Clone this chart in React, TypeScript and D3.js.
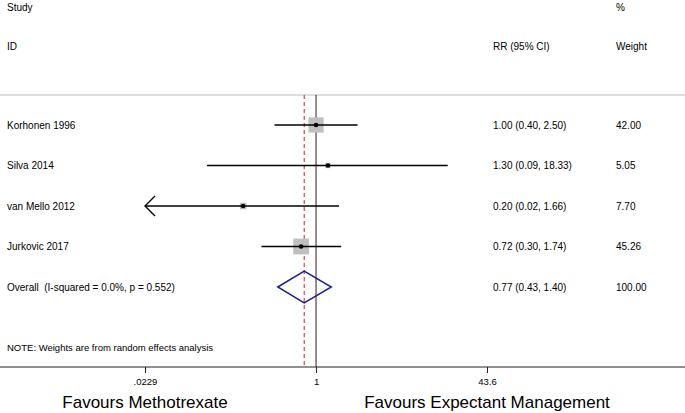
import React, { useEffect, useRef } from "react"
import * as d3 from "d3"

// forest plot: RR per study, log scale
const studies = ["Korhonen 1996", "Silva 2014", "van Mello 2012", "Jurkovic 2017"]
const rr = [1.0, 1.3, 0.2, 0.72]
const lower = [0.4, 0.09, 0.02, 0.3]
const upper = [2.5, 18.33, 1.66, 1.74]
const weights = [42.0, 5.05, 7.7, 45.26]
const ciLabels = ["1.00 (0.40, 2.50)", "1.30 (0.09, 18.33)", "0.20 (0.02, 1.66)", "0.72 (0.30, 1.74)"]
const weightLabels = ["42.00", "5.05", "7.70", "45.26"]

const overall = { label: "Overall  (I-squared = 0.0%, p = 0.552)", rr: 0.77, lo: 0.43, hi: 1.4, ci: "0.77 (0.43, 1.40)", w: "100.00" }

const tickValues = [0.0229, 1, 43.6]
const tickLabels = [".0229", "1", "43.6"]
const favours = ["Favours Methotrexate", "Favours Expectant Management"]

const W = 685
const H = 413
const font = "'Liberation Sans', Arial, sans-serif"

export default function App() {
  const axisRef = useRef<SVGGElement>(null)

  const x = d3.scaleLog().domain([0.0229, 43.6]).range([145, 487])
  const rowY = d3.scalePoint<number>().domain([0, 1, 2, 3, 4]).range([125, 287])
  const boxSide = d3.scaleSqrt().domain([0, 100]).range([0, 23.5])

  const top = 95
  const axisY = 367

  useEffect(() => {
    const g = d3.select(axisRef.current)
    g.selectAll("*").remove()
    g.call(
      d3.axisBottom(x)
        .tickValues(tickValues)
        .tickSize(6)
        .tickFormat((_, i) => tickLabels[i])
    )
    g.select(".domain").remove()
    g.selectAll("text").attr("font-family", font).attr("font-size", 9.5).attr("fill", "#000").attr("dy", "0.9em")
    g.selectAll("line").attr("stroke", "#222")
  }, [])

  const col1 = 493
  const col2 = 616

  return (
    <svg width={W} height={H} style={{ position: "absolute", left: 0, top: 0, background: "#fff" }} fontFamily={font}>
      <rect width={W} height={H} fill="#fff" />
      <g fontSize={10} fill="#000">
        <text x={7} y={11}>Study</text>
        <text x={7} y={50}>ID</text>
        <text x={col2} y={11}>%</text>
        <text x={col1} y={50}>RR (95% CI)</text>
        <text x={col2} y={50}>Weight</text>
      </g>
      <line x1={0} x2={W} y1={top} y2={top} stroke="#bbb" strokeWidth={1} />

      {/* null line and overall line */}
      <line x1={x(1)} x2={x(1)} y1={top} y2={axisY} stroke="#222" strokeWidth={1} />
      <line x1={x(overall.rr)} x2={x(overall.rr)} y1={top} y2={axisY} stroke="#c0242a" strokeWidth={1} strokeDasharray="4,3" />

      {studies.map((s, i) => {
        const y = rowY(i) as number
        const lo = Math.max(lower[i], 0.0229)
        const hi = Math.min(upper[i], 43.6)
        const side = boxSide(weights[i])
        return (
          <g key={s}>
            <rect x={x(rr[i]) - side / 2} y={y - side / 2} width={side} height={side} fill="#bfbfbf" />
            <line x1={x(lo)} x2={x(hi)} y1={y} y2={y} stroke="#000" strokeWidth={1.4} />
            {lower[i] < 0.0229 && (
              <polyline
                points={`${x(lo) + 10},${y - 10} ${x(lo)},${y} ${x(lo) + 10},${y + 10}`}
                fill="none"
                stroke="#000"
                strokeWidth={1.4}
              />
            )}
            <circle cx={x(rr[i])} cy={y} r={2.3} fill="#000" />
            <text x={7} y={y + 3.5} fontSize={10}>{s}</text>
            <text x={col1} y={y + 3.5} fontSize={10}>{ciLabels[i]}</text>
            <text x={col2} y={y + 3.5} fontSize={10}>{weightLabels[i]}</text>
          </g>
        )
      })}

      {(() => {
        const y = rowY(4) as number
        const pts = [
          [x(overall.lo), y],
          [x(overall.rr), y - 16],
          [x(overall.hi), y],
          [x(overall.rr), y + 16],
        ]
        return (
          <g>
            <polygon points={pts.map((p) => p.join(",")).join(" ")} fill="none" stroke="#1f1f8f" strokeWidth={1.5} />
            <text x={7} y={y + 3.5} fontSize={10} style={{ whiteSpace: "pre" }}>{overall.label}</text>
            <text x={col1} y={y + 3.5} fontSize={10}>{overall.ci}</text>
            <text x={col2} y={y + 3.5} fontSize={10}>{overall.w}</text>
          </g>
        )
      })()}

      <text x={7} y={351} fontSize={9.5}>NOTE: Weights are from random effects analysis</text>

      <line x1={0} x2={W} y1={axisY} y2={axisY} stroke="#222" strokeWidth={1} />
      <g ref={axisRef} transform={`translate(0,${axisY})`} />

      {favours.map((f, i) => (
        <text key={f} x={x(tickValues[i * 2])} y={408} textAnchor="middle" fontSize={17}>{f}</text>
      ))}
    </svg>
  )
}
